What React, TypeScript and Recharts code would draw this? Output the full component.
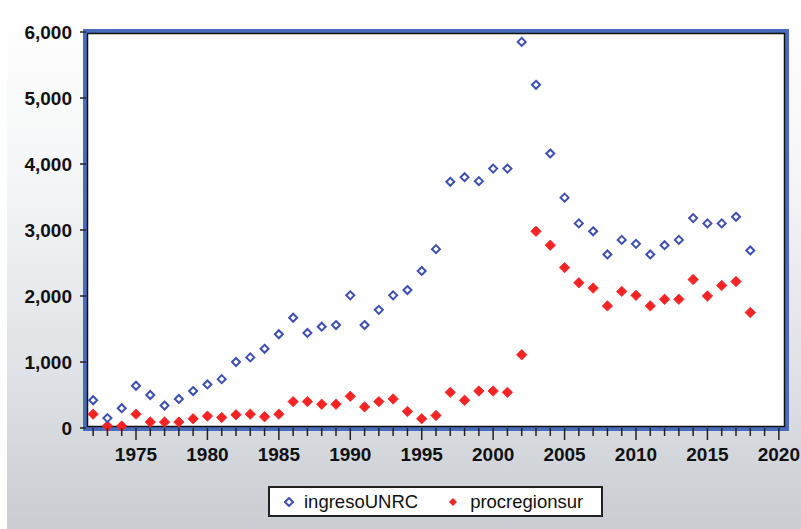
import React from 'react'
import { ScatterChart, Scatter, XAxis, YAxis, ReferenceArea } from 'recharts'

const years = [
  1972, 1973, 1974, 1975, 1976, 1977, 1978, 1979, 1980, 1981,
  1982, 1983, 1984, 1985, 1986, 1987, 1988, 1989, 1990, 1991,
  1992, 1993, 1994, 1995, 1996, 1997, 1998, 1999, 2000, 2001,
  2002, 2003, 2004, 2005, 2006, 2007, 2008, 2009, 2010, 2011,
  2012, 2013, 2014, 2015, 2016, 2017, 2018
]

const ingresoUNRC = [
  420, 150, 300, 640, 500, 340, 440, 560, 660, 740,
  1000, 1070, 1200, 1420, 1670, 1440, 1535, 1560, 2010, 1560,
  1790, 2010, 2090, 2380, 2710, 3730, 3800, 3740, 3930, 3930,
  5850, 5200, 4160, 3490, 3100, 2980, 2630, 2850, 2790, 2630,
  2770, 2850, 3180, 3100, 3100, 3200, 2690
]

const procregionsur = [
  210, 30, 30, 210, 90, 90, 90, 140, 180, 160,
  200, 210, 170, 210, 400, 400, 360, 360, 480, 320,
  400, 440, 250, 140, 190, 540, 420, 560, 560, 540,
  1110, 2980, 2770, 2430, 2200, 2120, 1850, 2070, 2010, 1850,
  1950, 1950, 2250, 2000, 2160, 2220, 1750
]

const majorYears = [1975, 1980, 1985, 1990, 1995, 2000, 2005, 2010, 2015, 2020]
const yTicks = [0, 1000, 2000, 3000, 4000, 5000, 6000]
const xDomain = [1971.5, 2020.5]

// one tick per year, labels only on the major ones
const yearTicks = Array.from({ length: 2020 - 1972 + 1 }, (_, i) => 1972 + i)

const BLUE = '#3d4fb2'
const RED = '#f42424'
const FONT = '"Liberation Sans", Arial, sans-serif'

const ingresoData = years.map((year, i) => ({ year, value: ingresoUNRC[i] }))
const procData = years.map((year, i) => ({ year, value: procregionsur[i] }))

function HollowDiamond({ cx, cy }: any) {
  const r = 4
  return (
    <polygon
      points={`${cx},${cy - r} ${cx + r},${cy} ${cx},${cy + r} ${cx - r},${cy}`}
      fill="#fff"
      stroke={BLUE}
      strokeWidth={2}
    />
  )
}

function SolidDiamond({ cx, cy }: any) {
  const r = 5.2
  return (
    <polygon
      points={`${cx},${cy - r} ${cx + r},${cy} ${cx},${cy + r} ${cx - r},${cy}`}
      fill={RED}
      stroke={RED}
      strokeWidth={0.8}
      strokeLinejoin="round"
    />
  )
}

function Frame({ x, y, width, height }: any) {
  return (
    <g>
      <rect x={x} y={y} width={width} height={height} fill="#fff" />
      <rect x={x - 1} y={y - 1} width={width + 2} height={height + 2} fill="none" stroke="#4a6cbc" strokeWidth={4} />
      <rect x={x + 1.5} y={y + 1.5} width={width - 3} height={height - 3} fill="none" stroke="#111" strokeWidth={1.5} />
    </g>
  )
}

function YearTick({ x, y, payload }: any) {
  const major = majorYears.includes(payload.value)
  return (
    <g>
      <line x1={x} x2={x} y1={y} y2={y + (major ? 12 : 8)} stroke="#222" strokeWidth={1.5} />
      {major && (
        <text
          x={x}
          y={y + 20}
          dy="0.71em"
          textAnchor="middle"
          fontSize={19}
          fontWeight="bold"
          fontFamily={FONT}
          fill="#111"
        >
          {payload.value}
        </text>
      )}
    </g>
  )
}

function LegendMark({ color, hollow }: { color: string; hollow: boolean }) {
  return (
    <svg width={10} height={10} style={{ display: 'block' }}>
      <polygon
        points="5,1 9,5 5,9 1,5"
        fill={hollow ? '#fff' : color}
        stroke={hollow ? color : 'none'}
        strokeWidth={2}
      />
    </svg>
  )
}

export default function App() {
  return (
    <div
      style={{
        position: 'absolute',
        left: 0,
        top: 0,
        width: 801,
        height: 529,
        background: 'linear-gradient(180deg, #ffffff 0%, #f6f7f8 30%, #dfe2e6 70%, #c9cdd3 100%)',
        fontFamily: FONT
      }}
    >
      <div style={{ position: 'absolute', left: 0, top: 0, width: 7, height: 529, background: '#fff' }} />
      <ScatterChart width={801} height={529} margin={{ top: 32, right: 15, bottom: 61, left: 0 }}>
        <XAxis
          type="number"
          dataKey="year"
          domain={xDomain}
          ticks={yearTicks}
          interval={0}
          allowDataOverflow
          axisLine={false}
          tickLine={false}
          tickSize={0}
          tickMargin={0}
          height={40}
          tick={<YearTick />}
        />
        <YAxis
          type="number"
          dataKey="value"
          domain={[0, 6000]}
          ticks={yTicks}
          interval={0}
          width={86}
          axisLine={false}
          tickLine={{ stroke: '#222', strokeWidth: 1.5 }}
          tickSize={6}
          tickMargin={8}
          tickFormatter={(v: number) => v.toLocaleString('en-US')}
          tick={{ fontSize: 19, fontWeight: 'bold', fill: '#111', fontFamily: FONT }}
        />
        <ReferenceArea x1={xDomain[0]} x2={xDomain[1]} y1={0} y2={6000} shape={<Frame />} />
        <Scatter name="procregionsur" data={procData} shape={<SolidDiamond />} isAnimationActive={false} />
        <Scatter name="ingresoUNRC" data={ingresoData} shape={<HollowDiamond />} isAnimationActive={false} />
      </ScatterChart>
      <div
        style={{
          position: 'absolute',
          left: 268,
          top: 486,
          width: 335,
          height: 31,
          boxSizing: 'border-box',
          border: '2px solid #222',
          background: '#fff',
          display: 'flex',
          alignItems: 'center',
          fontSize: 18.5,
          color: '#111'
        }}
      >
        <div style={{ marginLeft: 14 }}>
          <LegendMark color={BLUE} hollow />
        </div>
        <span style={{ marginLeft: 10 }}>ingresoUNRC</span>
        <div style={{ marginLeft: 30 }}>
          <LegendMark color={RED} hollow={false} />
        </div>
        <span style={{ marginLeft: 12 }}>procregionsur</span>
      </div>
    </div>
  )
}
